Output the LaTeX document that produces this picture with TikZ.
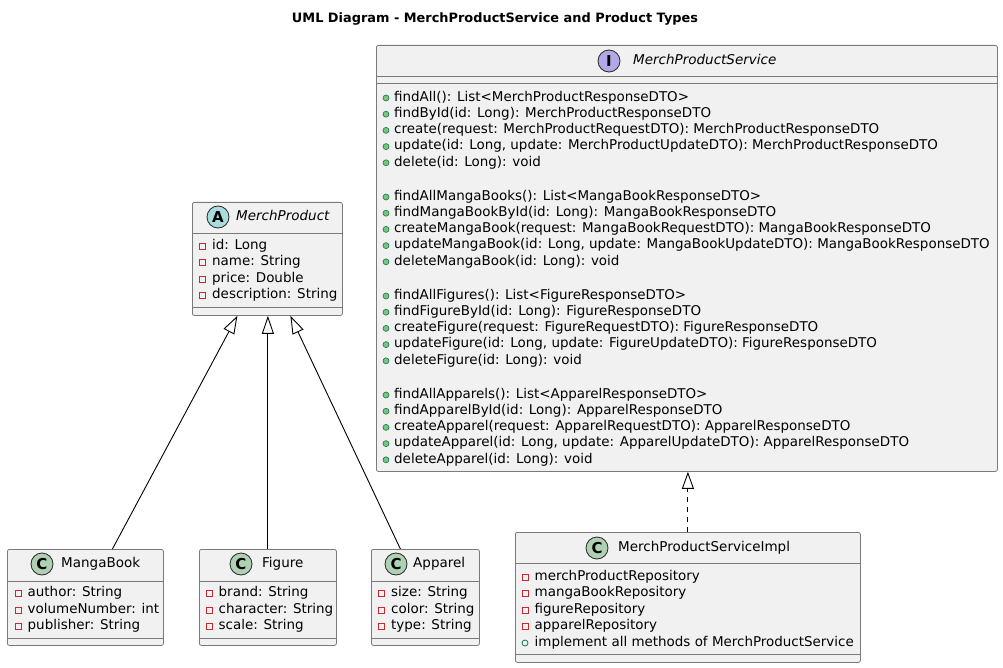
\documentclass[tikz,border=0pt]{standalone}
\usepackage{fontspec}
\setmainfont{DejaVu Sans}
\usetikzlibrary{arrows.meta,calc}
\definecolor{boxfill}{HTML}{F1F1F1}
\definecolor{boxline}{HTML}{7A7A7A}
\definecolor{privred}{HTML}{C82930}
\definecolor{pubgreen}{HTML}{038048}
\definecolor{pubfill}{HTML}{84BE84}
\definecolor{cfill}{HTML}{ADD1B2}
\definecolor{afill}{HTML}{A9DCDF}
\definecolor{ifill}{HTML}{B4A7E5}
\newcommand\umlpriv[4]{\node[privsq] (#1i) at (#2,#3) {}; \node[mem] (#1) at ($(#2,#3)+(9.5,0)$) {#4};}
\newcommand\umlpubm[3]{\node[pubdot] (#1i) at (386,#2) {}; \node[mem] (#1) at (394,#2) {#3};}
\begin{document}
\begin{tikzpicture}[x=1pt,y=-1pt,
  classbox/.style={draw=boxline, fill=boxfill, rounded corners=2pt, line width=0.8pt, anchor=north west, inner sep=0},
  sepline/.style={draw=boxline, line width=0.8pt},
  mem/.style={anchor=west, inner sep=0, text height=9.5pt, text depth=3pt, font=\fontsize{13.45}{15}\selectfont},
  cname/.style={anchor=west, inner sep=0, text height=10pt, text depth=3pt, font=\fontsize{13.5}{16}\selectfont},
  privsq/.style={draw=privred, fill=none, line width=0.8pt, minimum size=6pt, inner sep=0},
  pubdot/.style={circle, draw=pubgreen, fill=pubfill, line width=0.6pt, minimum size=6pt, inner sep=0},
  pubring/.style={circle, draw=pubgreen, fill=none, line width=0.8pt, minimum size=6pt, inner sep=0},
  badge/.style={circle, draw=black!85, line width=0.8pt, minimum size=22pt, inner sep=0, font=\fontsize{15}{15}\selectfont\bfseries},
  gen/.style={-{Triangle[open, length=18pt, width=12pt, fill=white]}, line width=0.9pt},
  real/.style={-{Triangle[open, length=17pt, width=12pt, fill=white]}, line width=0.9pt, dash pattern=on 5pt off 5pt}
]
\useasboundingbox (0,0) rectangle (1003,668);
\fill[white] (0,0) rectangle (1003,668);

\node[font=\fontsize{12.9}{15}\selectfont\bfseries, inner sep=0] (title) at (495,19) {UML Diagram - MerchProductService and Product Types};

% ---------- MerchProductService ----------
\node[classbox, minimum width=621pt, minimum height=426pt] (mps) at (376,45) {};
\draw[sepline] (376,76) -- (997,76);
\draw[sepline] (376,83) -- (997,83);
\node[badge, fill=ifill] (mpsb) at (609,61) {I};
\node[cname, font=\fontsize{13.5}{16}\selectfont\itshape] (mpsn) at (633,61) {MerchProductService};
\umlpubm{m1}{98}{findAll(): List<MerchProductResponseDTO>}
\umlpubm{m2}{114.2}{findById(id: Long): MerchProductResponseDTO}
\umlpubm{m3}{130.4}{create(request: MerchProductRequestDTO): MerchProductResponseDTO}
\umlpubm{m4}{146.6}{update(id: Long, update: MerchProductUpdateDTO): MerchProductResponseDTO}
\umlpubm{m5}{162.8}{delete(id: Long): void}
\umlpubm{m6}{197}{findAllMangaBooks(): List<MangaBookResponseDTO>}
\umlpubm{m7}{213.2}{findMangaBookById(id: Long): MangaBookResponseDTO}
\umlpubm{m8}{229.4}{createMangaBook(request: MangaBookRequestDTO): MangaBookResponseDTO}
\umlpubm{m9}{245.6}{updateMangaBook(id: Long, update: MangaBookUpdateDTO): MangaBookResponseDTO}
\umlpubm{m10}{261.8}{deleteMangaBook(id: Long): void}
\umlpubm{m11}{296}{findAllFigures(): List<FigureResponseDTO>}
\umlpubm{m12}{312.2}{findFigureById(id: Long): FigureResponseDTO}
\umlpubm{m13}{328.4}{createFigure(request: FigureRequestDTO): FigureResponseDTO}
\umlpubm{m14}{344.6}{updateFigure(id: Long, update: FigureUpdateDTO): FigureResponseDTO}
\umlpubm{m15}{360.8}{deleteFigure(id: Long): void}
\umlpubm{m16}{395}{findAllApparels(): List<ApparelResponseDTO>}
\umlpubm{m17}{411.2}{findApparelById(id: Long): ApparelResponseDTO}
\umlpubm{m18}{427.4}{createApparel(request: ApparelRequestDTO): ApparelResponseDTO}
\umlpubm{m19}{443.6}{updateApparel(id: Long, update: ApparelUpdateDTO): ApparelResponseDTO}
\umlpubm{m20}{459.8}{deleteApparel(id: Long): void}

% ---------- MerchProduct ----------
\node[classbox, minimum width=150pt, minimum height=113pt] (mp) at (192,202) {};
\draw[sepline] (192,233) -- (342,233);
\draw[sepline] (192,307) -- (342,307);
\node[badge, fill=afill] (mpb) at (218,217) {A};
\node[cname, font=\fontsize{13.5}{16}\selectfont\itshape] (mpn) at (236,217) {MerchProduct};
\umlpriv{p1}{202.5}{246}{id: Long}
\umlpriv{p2}{202.5}{262.5}{name: String}
\umlpriv{p3}{202.5}{279}{price: Double}
\umlpriv{p4}{202.5}{295.5}{description: String}

% ---------- MangaBook ----------
\node[classbox, minimum width=156pt, minimum height=96pt] (manga) at (7,549) {};
\draw[sepline] (7,581) -- (163,581);
\draw[sepline] (7,638) -- (163,638);
\node[badge, fill=cfill] (mangab) at (42,564) {C};
\node[cname] (mangan) at (61,564) {MangaBook};
\umlpriv{a1}{18}{593.5}{author: String}
\umlpriv{a2}{18}{610}{volumeNumber: int}
\umlpriv{a3}{18}{626.5}{publisher: String}

% ---------- Figure ----------
\node[classbox, minimum width=137pt, minimum height=96pt] (figure) at (199,549) {};
\draw[sepline] (199,581) -- (336,581);
\draw[sepline] (199,638) -- (336,638);
\node[badge, fill=cfill] (figb) at (241,564) {C};
\node[cname] (fign) at (262,564) {Figure};
\umlpriv{f1}{209}{593.5}{brand: String}
\umlpriv{f2}{209}{610}{character: String}
\umlpriv{f3}{209}{626.5}{scale: String}

% ---------- Apparel ----------
\node[classbox, minimum width=108pt, minimum height=96pt] (apparel) at (371,549) {};
\draw[sepline] (371,581) -- (479,581);
\draw[sepline] (371,638) -- (479,638);
\node[badge, fill=cfill] (appb) at (396,564) {C};
\node[cname] (appn) at (413,564) {Apparel};
\umlpriv{q1}{381.5}{593.5}{size: String}
\umlpriv{q2}{381.5}{610}{color: String}
\umlpriv{q3}{381.5}{626.5}{type: String}

% ---------- MerchProductServiceImpl ----------
\node[classbox, minimum width=345pt, minimum height=130pt] (impl) at (515,532) {};
\draw[sepline] (515,563) -- (860,563);
\draw[sepline] (515,654) -- (860,654);
\node[badge, fill=cfill] (implb) at (597,548) {C};
\node[cname] (impln) at (618,548) {MerchProductServiceImpl};
\umlpriv{r1}{525}{577}{merchProductRepository}
\umlpriv{r2}{525}{593.5}{mangaBookRepository}
\umlpriv{r3}{525}{610}{figureRepository}
\umlpriv{r4}{525}{626.5}{apparelRepository}
\node[pubring] (r5i) at (525,643) {};
\node[mem] (r5) at (534.5,643) {implement all methods of MerchProductService};

% ---------- connectors ----------
\draw[gen] ([xshift=27pt]manga.north) -- ([xshift=-30pt]mp.south);
\draw[gen] (figure.north) -- (figure.north |- mp.south);
\draw[gen] ([xshift=-25pt]apparel.north) -- ([xshift=23pt]mp.south);
\draw[real] (impl.north) -- (impl.north |- mps.south);
\end{tikzpicture}
\end{document}
